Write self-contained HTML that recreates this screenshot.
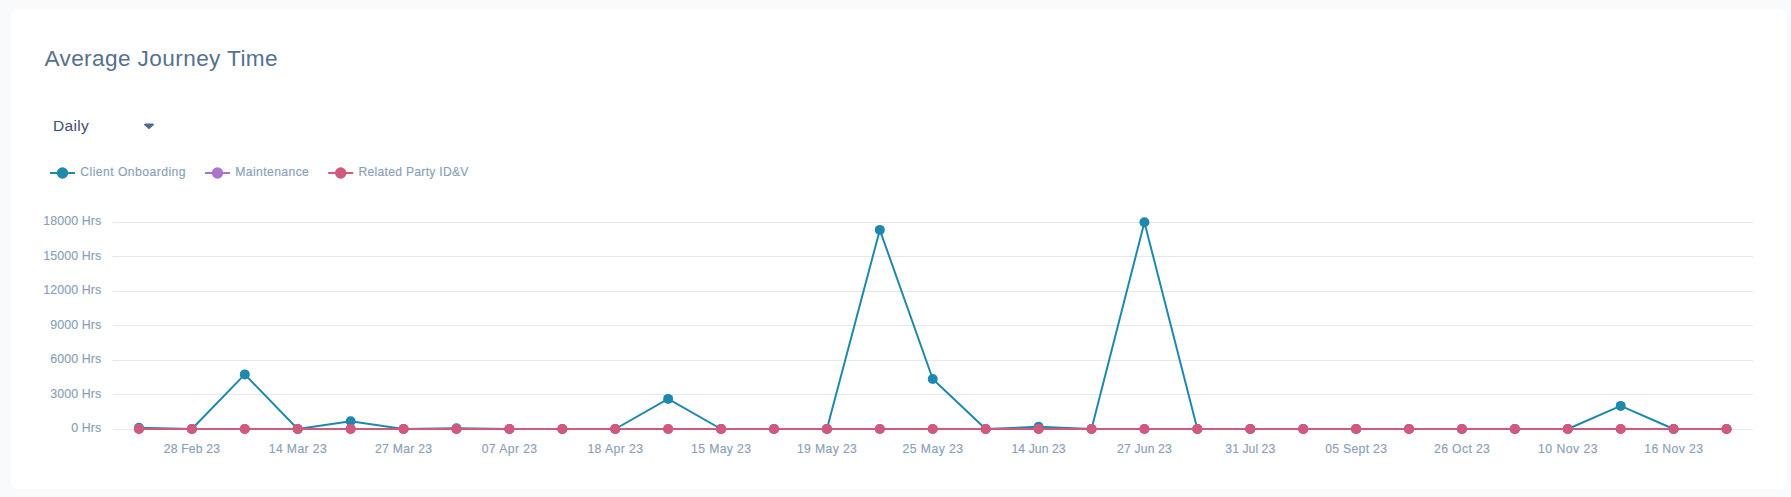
<!DOCTYPE html>
<html lang="en">
<head>
<meta charset="utf-8">
<title>Average Journey Time</title>
<style>
html,body{margin:0;padding:0;}
body{width:1791px;height:497px;overflow:hidden;background:#f9fafc;font-family:"Liberation Sans",sans-serif;position:relative;}
.card{position:absolute;left:11px;top:9px;width:1775px;height:480px;background:#fff;border-radius:7px;}
.title{position:absolute;left:44.4px;top:47.3px;font-size:22.6px;line-height:24px;color:#56718f;white-space:nowrap;letter-spacing:0.4px;}
.select{position:absolute;left:53px;top:116px;font-size:15.5px;line-height:20px;color:#3b506f;white-space:nowrap;letter-spacing:0.3px;}
.arrow{position:absolute;left:144px;top:123px;width:10px;height:7px;}
.chart{position:absolute;left:0;top:0;}
.chart text{font-family:"Liberation Sans",sans-serif;fill:#8a9fb8;stroke:#8a9fb8;stroke-width:0.15px;}
.yl{font-size:12.4px;letter-spacing:0.1px;}
.xl{font-size:12.2px;}
.lg{font-size:12.2px;}
</style>
</head>
<body>
<div class="card"></div>
<div class="title">Average Journey Time</div>
<div class="select">Daily</div>
<svg class="arrow" viewBox="0 0 10 7"><path d="M1.7 0.4 H8.3 Q9.6 0.4 9.9 1.2 Q10 1.7 9.5 2.2 L5.7 5.8 Q5 6.4 4.3 5.8 L0.5 2.2 Q0 1.7 0.1 1.2 Q0.4 0.4 1.7 0.4 Z" fill="#4f6c8e"/></svg>
<svg class="chart" width="1791" height="497" viewBox="0 0 1791 497">
<line x1="112.5" y1="222.5" x2="1753.0" y2="222.5" stroke="#e4e8ec" stroke-width="1"/>
<line x1="112.5" y1="256.5" x2="1753.0" y2="256.5" stroke="#e4e8ec" stroke-width="1"/>
<line x1="112.5" y1="291.5" x2="1753.0" y2="291.5" stroke="#e4e8ec" stroke-width="1"/>
<line x1="112.5" y1="325.5" x2="1753.0" y2="325.5" stroke="#e4e8ec" stroke-width="1"/>
<line x1="112.5" y1="360.5" x2="1753.0" y2="360.5" stroke="#e4e8ec" stroke-width="1"/>
<line x1="112.5" y1="394.5" x2="1753.0" y2="394.5" stroke="#e4e8ec" stroke-width="1"/>
<line x1="112.5" y1="429.5" x2="1753.0" y2="429.5" stroke="#e4e8ec" stroke-width="1"/>
<text class="yl" x="101.3" y="225.0" text-anchor="end">18000 Hrs</text>
<text class="yl" x="101.3" y="259.5" text-anchor="end">15000 Hrs</text>
<text class="yl" x="101.3" y="294.0" text-anchor="end">12000 Hrs</text>
<text class="yl" x="101.3" y="328.5" text-anchor="end">9000 Hrs</text>
<text class="yl" x="101.3" y="363.0" text-anchor="end">6000 Hrs</text>
<text class="yl" x="101.3" y="397.5" text-anchor="end">3000 Hrs</text>
<text class="yl" x="101.3" y="432.0" text-anchor="end">0 Hrs</text>
<text class="xl" x="191.96" y="453" text-anchor="middle" letter-spacing="0.163">28 Feb 23</text>
<text class="xl" x="297.91" y="453" text-anchor="middle" letter-spacing="0.375">14 Mar 23</text>
<text class="xl" x="403.70" y="453" text-anchor="middle" letter-spacing="0.287">27 Mar 23</text>
<text class="xl" x="509.60" y="453" text-anchor="middle" letter-spacing="0.412">07 Apr 23</text>
<text class="xl" x="615.45" y="453" text-anchor="middle" letter-spacing="0.438">18 Apr 23</text>
<text class="xl" x="721.26" y="453" text-anchor="middle" letter-spacing="0.375">15 May 23</text>
<text class="xl" x="827.10" y="453" text-anchor="middle" letter-spacing="0.375">19 May 23</text>
<text class="xl" x="932.99" y="453" text-anchor="middle" letter-spacing="0.475">25 May 23</text>
<text class="xl" x="1038.63" y="453" text-anchor="middle" letter-spacing="0.075">14 Jun 23</text>
<text class="xl" x="1144.51" y="453" text-anchor="middle" letter-spacing="0.163">27 Jun 23</text>
<text class="xl" x="1250.29" y="453" text-anchor="middle" letter-spacing="0.050">31 Jul 23</text>
<text class="xl" x="1356.25" y="453" text-anchor="middle" letter-spacing="0.300">05 Sept 23</text>
<text class="xl" x="1462.12" y="453" text-anchor="middle" letter-spacing="0.362">26 Oct 23</text>
<text class="xl" x="1568.04" y="453" text-anchor="middle" letter-spacing="0.512">10 Nov 23</text>
<text class="xl" x="1673.81" y="453" text-anchor="middle" letter-spacing="0.388">16 Nov 23</text>
<polyline points="138.96,427.80 191.88,429.00 244.80,374.40 297.72,429.00 350.64,421.30 403.56,429.00 456.48,428.20 509.40,429.00 562.31,429.00 615.23,429.00 668.15,398.90 721.07,429.00 773.99,429.00 826.91,429.00 879.83,229.90 932.75,379.00 985.67,429.00 1038.59,426.80 1091.51,429.00 1144.43,222.20 1197.35,429.00 1250.27,429.00 1303.19,429.00 1356.10,429.00 1409.02,429.00 1461.94,429.00 1514.86,429.00 1567.78,429.00 1620.70,405.90 1673.62,429.00 1726.54,429.00" fill="none" stroke="#1f89ad" stroke-width="2" stroke-linejoin="bevel"/>
<circle cx="138.96" cy="427.80" r="5" fill="#1f89ad"/>
<circle cx="191.88" cy="429.00" r="5" fill="#1f89ad"/>
<circle cx="244.80" cy="374.40" r="5" fill="#1f89ad"/>
<circle cx="297.72" cy="429.00" r="5" fill="#1f89ad"/>
<circle cx="350.64" cy="421.30" r="5" fill="#1f89ad"/>
<circle cx="403.56" cy="429.00" r="5" fill="#1f89ad"/>
<circle cx="456.48" cy="428.20" r="5" fill="#1f89ad"/>
<circle cx="509.40" cy="429.00" r="5" fill="#1f89ad"/>
<circle cx="562.31" cy="429.00" r="5" fill="#1f89ad"/>
<circle cx="615.23" cy="429.00" r="5" fill="#1f89ad"/>
<circle cx="668.15" cy="398.90" r="5" fill="#1f89ad"/>
<circle cx="721.07" cy="429.00" r="5" fill="#1f89ad"/>
<circle cx="773.99" cy="429.00" r="5" fill="#1f89ad"/>
<circle cx="826.91" cy="429.00" r="5" fill="#1f89ad"/>
<circle cx="879.83" cy="229.90" r="5" fill="#1f89ad"/>
<circle cx="932.75" cy="379.00" r="5" fill="#1f89ad"/>
<circle cx="985.67" cy="429.00" r="5" fill="#1f89ad"/>
<circle cx="1038.59" cy="426.80" r="5" fill="#1f89ad"/>
<circle cx="1091.51" cy="429.00" r="5" fill="#1f89ad"/>
<circle cx="1144.43" cy="222.20" r="5" fill="#1f89ad"/>
<circle cx="1197.35" cy="429.00" r="5" fill="#1f89ad"/>
<circle cx="1250.27" cy="429.00" r="5" fill="#1f89ad"/>
<circle cx="1303.19" cy="429.00" r="5" fill="#1f89ad"/>
<circle cx="1356.10" cy="429.00" r="5" fill="#1f89ad"/>
<circle cx="1409.02" cy="429.00" r="5" fill="#1f89ad"/>
<circle cx="1461.94" cy="429.00" r="5" fill="#1f89ad"/>
<circle cx="1514.86" cy="429.00" r="5" fill="#1f89ad"/>
<circle cx="1567.78" cy="429.00" r="5" fill="#1f89ad"/>
<circle cx="1620.70" cy="405.90" r="5" fill="#1f89ad"/>
<circle cx="1673.62" cy="429.00" r="5" fill="#1f89ad"/>
<circle cx="1726.54" cy="429.00" r="5" fill="#1f89ad"/>
<polyline points="138.96,429.00 191.88,429.00 244.80,429.00 297.72,429.00 350.64,429.00 403.56,429.00 456.48,429.00 509.40,429.00 562.31,429.00 615.23,429.00 668.15,429.00 721.07,429.00 773.99,429.00 826.91,429.00 879.83,429.00 932.75,429.00 985.67,429.00 1038.59,429.00 1091.51,429.00 1144.43,429.00 1197.35,429.00 1250.27,429.00 1303.19,429.00 1356.10,429.00 1409.02,429.00 1461.94,429.00 1514.86,429.00 1567.78,429.00 1620.70,429.00 1673.62,429.00 1726.54,429.00" fill="none" stroke="#a974cc" stroke-width="2" stroke-linejoin="bevel"/>
<circle cx="138.96" cy="429.00" r="5" fill="#a974cc"/>
<circle cx="191.88" cy="429.00" r="5" fill="#a974cc"/>
<circle cx="244.80" cy="429.00" r="5" fill="#a974cc"/>
<circle cx="297.72" cy="429.00" r="5" fill="#a974cc"/>
<circle cx="350.64" cy="429.00" r="5" fill="#a974cc"/>
<circle cx="403.56" cy="429.00" r="5" fill="#a974cc"/>
<circle cx="456.48" cy="429.00" r="5" fill="#a974cc"/>
<circle cx="509.40" cy="429.00" r="5" fill="#a974cc"/>
<circle cx="562.31" cy="429.00" r="5" fill="#a974cc"/>
<circle cx="615.23" cy="429.00" r="5" fill="#a974cc"/>
<circle cx="668.15" cy="429.00" r="5" fill="#a974cc"/>
<circle cx="721.07" cy="429.00" r="5" fill="#a974cc"/>
<circle cx="773.99" cy="429.00" r="5" fill="#a974cc"/>
<circle cx="826.91" cy="429.00" r="5" fill="#a974cc"/>
<circle cx="879.83" cy="429.00" r="5" fill="#a974cc"/>
<circle cx="932.75" cy="429.00" r="5" fill="#a974cc"/>
<circle cx="985.67" cy="429.00" r="5" fill="#a974cc"/>
<circle cx="1038.59" cy="429.00" r="5" fill="#a974cc"/>
<circle cx="1091.51" cy="429.00" r="5" fill="#a974cc"/>
<circle cx="1144.43" cy="429.00" r="5" fill="#a974cc"/>
<circle cx="1197.35" cy="429.00" r="5" fill="#a974cc"/>
<circle cx="1250.27" cy="429.00" r="5" fill="#a974cc"/>
<circle cx="1303.19" cy="429.00" r="5" fill="#a974cc"/>
<circle cx="1356.10" cy="429.00" r="5" fill="#a974cc"/>
<circle cx="1409.02" cy="429.00" r="5" fill="#a974cc"/>
<circle cx="1461.94" cy="429.00" r="5" fill="#a974cc"/>
<circle cx="1514.86" cy="429.00" r="5" fill="#a974cc"/>
<circle cx="1567.78" cy="429.00" r="5" fill="#a974cc"/>
<circle cx="1620.70" cy="429.00" r="5" fill="#a974cc"/>
<circle cx="1673.62" cy="429.00" r="5" fill="#a974cc"/>
<circle cx="1726.54" cy="429.00" r="5" fill="#a974cc"/>
<polyline points="138.96,429.00 191.88,429.00 244.80,429.00 297.72,429.00 350.64,429.00 403.56,429.00 456.48,429.00 509.40,429.00 562.31,429.00 615.23,429.00 668.15,429.00 721.07,429.00 773.99,429.00 826.91,429.00 879.83,429.00 932.75,429.00 985.67,429.00 1038.59,429.00 1091.51,429.00 1144.43,429.00 1197.35,429.00 1250.27,429.00 1303.19,429.00 1356.10,429.00 1409.02,429.00 1461.94,429.00 1514.86,429.00 1567.78,429.00 1620.70,429.00 1673.62,429.00 1726.54,429.00" fill="none" stroke="#d0597c" stroke-width="2" stroke-linejoin="bevel"/>
<circle cx="138.96" cy="429.00" r="5" fill="#d0597c"/>
<circle cx="191.88" cy="429.00" r="5" fill="#d0597c"/>
<circle cx="244.80" cy="429.00" r="5" fill="#d0597c"/>
<circle cx="297.72" cy="429.00" r="5" fill="#d0597c"/>
<circle cx="350.64" cy="429.00" r="5" fill="#d0597c"/>
<circle cx="403.56" cy="429.00" r="5" fill="#d0597c"/>
<circle cx="456.48" cy="429.00" r="5" fill="#d0597c"/>
<circle cx="509.40" cy="429.00" r="5" fill="#d0597c"/>
<circle cx="562.31" cy="429.00" r="5" fill="#d0597c"/>
<circle cx="615.23" cy="429.00" r="5" fill="#d0597c"/>
<circle cx="668.15" cy="429.00" r="5" fill="#d0597c"/>
<circle cx="721.07" cy="429.00" r="5" fill="#d0597c"/>
<circle cx="773.99" cy="429.00" r="5" fill="#d0597c"/>
<circle cx="826.91" cy="429.00" r="5" fill="#d0597c"/>
<circle cx="879.83" cy="429.00" r="5" fill="#d0597c"/>
<circle cx="932.75" cy="429.00" r="5" fill="#d0597c"/>
<circle cx="985.67" cy="429.00" r="5" fill="#d0597c"/>
<circle cx="1038.59" cy="429.00" r="5" fill="#d0597c"/>
<circle cx="1091.51" cy="429.00" r="5" fill="#d0597c"/>
<circle cx="1144.43" cy="429.00" r="5" fill="#d0597c"/>
<circle cx="1197.35" cy="429.00" r="5" fill="#d0597c"/>
<circle cx="1250.27" cy="429.00" r="5" fill="#d0597c"/>
<circle cx="1303.19" cy="429.00" r="5" fill="#d0597c"/>
<circle cx="1356.10" cy="429.00" r="5" fill="#d0597c"/>
<circle cx="1409.02" cy="429.00" r="5" fill="#d0597c"/>
<circle cx="1461.94" cy="429.00" r="5" fill="#d0597c"/>
<circle cx="1514.86" cy="429.00" r="5" fill="#d0597c"/>
<circle cx="1567.78" cy="429.00" r="5" fill="#d0597c"/>
<circle cx="1620.70" cy="429.00" r="5" fill="#d0597c"/>
<circle cx="1673.62" cy="429.00" r="5" fill="#d0597c"/>
<circle cx="1726.54" cy="429.00" r="5" fill="#d0597c"/>
<line x1="50" y1="173" x2="75" y2="173" stroke="#1f89ad" stroke-width="2"/>
<circle cx="62.5" cy="173" r="5.7" fill="#1f89ad"/>
<text class="lg" x="80.3" y="176" textLength="105.3" lengthAdjust="spacing">Client Onboarding</text>
<line x1="205" y1="173" x2="230" y2="173" stroke="#a974cc" stroke-width="2"/>
<circle cx="217.5" cy="173" r="5.7" fill="#a974cc"/>
<text class="lg" x="235.2" y="176" textLength="73.7" lengthAdjust="spacing">Maintenance</text>
<line x1="328.2" y1="173" x2="353.2" y2="173" stroke="#d0597c" stroke-width="2"/>
<circle cx="340.7" cy="173" r="5.7" fill="#d0597c"/>
<text class="lg" x="358.5" y="176" textLength="110" lengthAdjust="spacing">Related Party ID&amp;V</text>
</svg>
</body>
</html>
